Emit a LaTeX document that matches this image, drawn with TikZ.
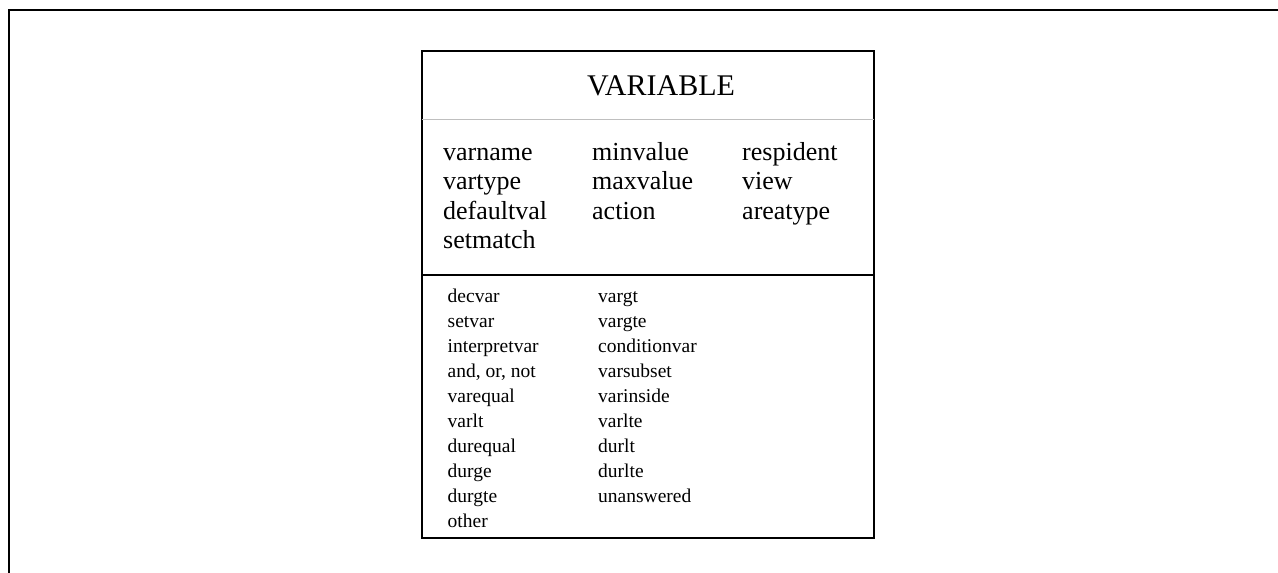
\documentclass[tikz,border=0pt]{standalone}
\usepackage{fontspec}
\setmainfont{Liberation Serif}

\begin{document}
\begin{tikzpicture}[x=1pt, y=-1pt,
    frame/.style = {line width=2pt},
    head/.style = {anchor=base, inner sep=0pt, font=\fontsize{30}{36}\selectfont},
    attr/.style = {anchor=base west, inner sep=0pt, font=\fontsize{26}{30}\selectfont},
    op/.style = {anchor=base west, inner sep=0pt, font=\fontsize{19.5}{24}\selectfont}]
    \useasboundingbox (0,0) rectangle (1278,573);
    % page frame
    \draw[frame] (9,573) -- (9,10) -- (1278,10);
    % class box
    \draw[frame] (422,51) rectangle (874,538);
    \draw[black!25, line width=1pt] (422,119) -- (874,119);
    \draw[frame] (422,275) -- (874,275);
    \node[head] (title) at (661,95) {VARIABLE};
    % attributes
    \node[attr] (varname)    at (443,160)   {varname};
    \node[attr] (vartype)    at (443,189.5) {vartype};
    \node[attr] (defaultval) at (443,219)   {defaultval};
    \node[attr] (setmatch)   at (443,248.5) {setmatch};
    \node[attr] (minvalue)   at (592,160)   {minvalue};
    \node[attr] (maxvalue)   at (592,189.5) {maxvalue};
    \node[attr] (action)     at (592,219)   {action};
    \node[attr] (respident)  at (742,160)   {respident};
    \node[attr] (view)       at (742,189.5) {view};
    \node[attr] (areatype)   at (742,219)   {areatype};
    % operations
    \foreach \name [count=\i] in {decvar, setvar, interpretvar, {and, or, not},
        varequal, varlt, durequal, durge, durgte, other}
        \node[op] (opa\i) at (447.5,{302+25.1*(\i-1)}) {\name};
    \foreach \name [count=\i] in {vargt, vargte, conditionvar, varsubset,
        varinside, varlte, durlt, durlte, unanswered}
        \node[op] (opb\i) at (598,{302+25.1*(\i-1)}) {\name};
\end{tikzpicture}
\end{document}
